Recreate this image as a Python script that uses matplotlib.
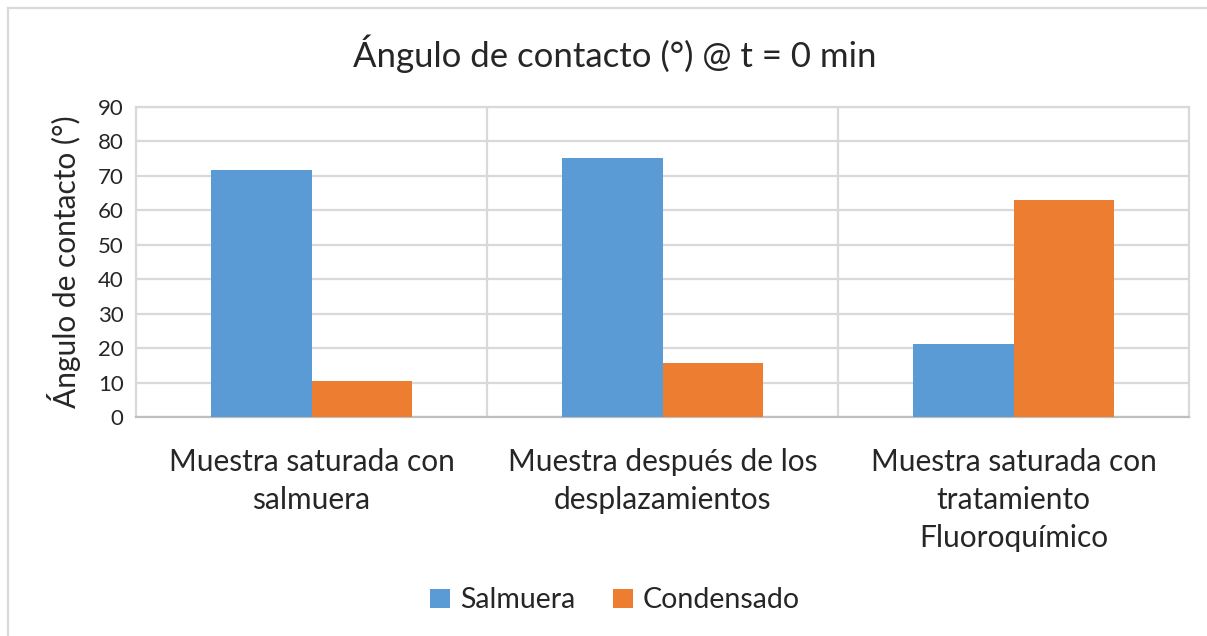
import numpy as np
import matplotlib.pyplot as plt
from matplotlib.lines import Line2D
from matplotlib.patches import Patch

plt.rcParams['font.family'] = ['Lato', 'DejaVu Sans']

categorias = ['Muestra saturada con\nsalmuera',
              'Muestra después de los\ndesplazamientos',
              'Muestra saturada con\ntratamiento\nFluoroquímico']
salmuera = [71.8, 75.2, 21.3]
condensado = [10.5, 15.8, 62.9]
series = ['Salmuera', 'Condensado']
colores = ['#5B9BD5', '#ED7D31']

fig = plt.figure(figsize=(12.07, 6.36), dpi=100)
ax = fig.add_axes([0.1127, 0.3443, 0.8724, 0.4875])

x = np.arange(len(categorias))
w = 0.285
ax.bar(x - w / 2, salmuera, w, color=colores[0], zorder=3)
ax.bar(x + w / 2, condensado, w, color=colores[1], zorder=3)

ax.set_xlim(-0.5, len(categorias) - 0.5)
ax.set_ylim(0, 90)
ax.set_yticks(np.arange(0, 91, 10))
ax.yaxis.grid(True, color='#d9d9d9', linewidth=1.6, zorder=0)
# separadores entre categorias
for b in np.arange(0.5, len(categorias) - 0.5, 1):
    ax.axvline(b, color='#d9d9d9', linewidth=1.6, zorder=0)

for s in ['left', 'right', 'top']:
    ax.spines[s].set_color('#d9d9d9')
    ax.spines[s].set_linewidth(1.6)
ax.spines['bottom'].set_color('#bfbfbf')
ax.spines['bottom'].set_linewidth(1.6)

ax.set_xticks(x)
ax.set_xticklabels(categorias, fontsize=21.5, color='#262626', linespacing=1.45)
ax.tick_params(axis='x', length=0, pad=22)
ax.tick_params(axis='y', length=0, labelsize=16, labelcolor='#262626', pad=9)

ax.set_ylabel('Ángulo de contacto (°)', fontsize=21.5, color='#262626', labelpad=12)
fig.text(0.5097, 0.915, 'Ángulo de contacto (°) @ t = 0 min', fontsize=25,
         color='#262626', ha='center', va='center')

handles = [Patch(facecolor=c, edgecolor='none') for c in colores]
fig.legend(handles, series, loc='center', bbox_to_anchor=(0.5097, 0.056), ncol=2,
           frameon=False, fontsize=20.5, handlelength=0.68, handleheight=0.68,
           handletextpad=0.35, columnspacing=1.35, labelcolor='#262626')

# marco del grafico (solo superior e izquierdo visibles)
fig.add_artist(Line2D([0.0066, 1.0], [0.9874, 0.9874], transform=fig.transFigure,
                      color='#d9d9d9', linewidth=1.6))
fig.add_artist(Line2D([0.0066, 0.0066], [0.0, 0.9874], transform=fig.transFigure,
                      color='#d9d9d9', linewidth=1.6))

fig.savefig('out.png', dpi=100, facecolor='white')
